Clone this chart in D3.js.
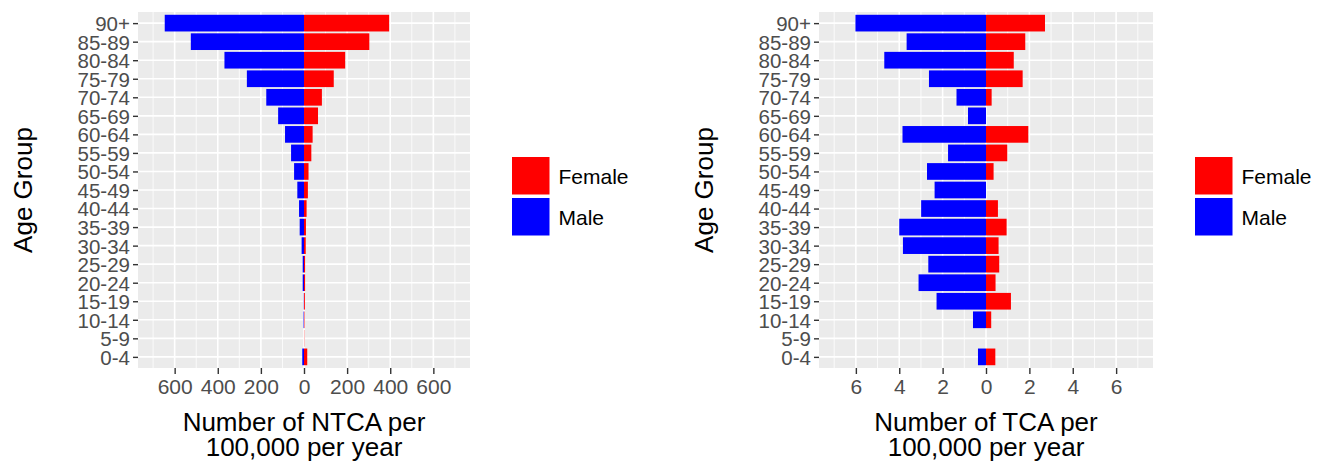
<!DOCTYPE html>
<html>
<head>
<meta charset="utf-8">
<script src="https://cdn.jsdelivr.net/npm/d3@7"></script>
<style>
  body { margin: 0; background: #fff; }
  svg text { font-family: "Liberation Sans", Arial, sans-serif; }
</style>
</head>
<body>
<svg id="chart" width="1318" height="461"></svg>
<script>
// age groups, bottom to top
const ageGroups = ["0-4", "5-9", "10-14", "15-19", "20-24", "25-29", "30-34", "35-39", "40-44",
  "45-49", "50-54", "55-59", "60-64", "65-69", "70-74", "75-79", "80-84", "85-89", "90+"];

// non-traffic cardiac arrest per 100,000 per year
const ntcaMale = [8, 0, 2, 1, 6, 6, 11, 20, 23, 31, 46, 60, 88, 120, 175, 265, 369, 525, 646];
const ntcaFemale = [15, 1, 2, 4, 5, 5, 8, 9, 12, 18, 21, 34, 40, 65, 83, 138, 191, 303, 395];

// traffic cardiac arrest per 100,000 per year
const tcaMale = [0.37, 0, 0.6, 2.28, 3.11, 2.66, 3.83, 4.0, 2.99, 2.37, 2.72, 1.75, 3.85, 0.83, 1.36, 2.63, 4.69, 3.66, 6.02];
const tcaFemale = [0.43, 0, 0.24, 1.15, 0.44, 0.61, 0.58, 0.95, 0.55, 0, 0.35, 0.98, 1.95, 0, 0.26, 1.69, 1.28, 1.81, 2.72];

const ntcaTicks = [-600, -400, -200, 0, 200, 400, 600];
const ntcaMinor = [-700, -500, -300, -100, 100, 300, 500, 700];
const tcaTicks = [-6, -4, -2, 0, 2, 4, 6];
const tcaMinor = [-7, -5, -3, -1, 1, 3, 5, 7];

const sexes = ["Female", "Male"];
const sexColor = d3.scaleOrdinal().domain(sexes).range(["#ff0000", "#0000ff"]);

const svg = d3.select("#chart");
const panelTop = 12, panelBottom = 368;

function drawPyramid(opts) {
  const g = svg.append("g");

  const x = d3.scaleLinear().domain([-opts.lim * 1.1, opts.lim * 1.1]).range([opts.x0, opts.x1]);
  const y = d3.scalePoint().domain(ageGroups.slice().reverse()).range([panelTop, panelBottom]).padding(0.6);
  const barH = y.step() * 0.9;

  // panel background
  g.append("rect")
    .attr("x", opts.x0).attr("y", panelTop)
    .attr("width", opts.x1 - opts.x0).attr("height", panelBottom - panelTop)
    .attr("fill", "#ebebeb");

  // minor grid
  g.selectAll(".minor").data(opts.minor).join("line")
    .attr("x1", d => x(d)).attr("x2", d => x(d))
    .attr("y1", panelTop).attr("y2", panelBottom)
    .attr("stroke", "#fff").attr("stroke-width", 0.8);

  // major grid
  g.selectAll(".majx").data(opts.ticks).join("line")
    .attr("x1", d => x(d)).attr("x2", d => x(d))
    .attr("y1", panelTop).attr("y2", panelBottom)
    .attr("stroke", "#fff").attr("stroke-width", 1.6);
  g.selectAll(".majy").data(ageGroups).join("line")
    .attr("x1", opts.x0).attr("x2", opts.x1)
    .attr("y1", d => y(d)).attr("y2", d => y(d))
    .attr("stroke", "#fff").attr("stroke-width", 1.6);

  // bars
  const rows = ageGroups.map((a, i) => ({ age: a, male: opts.male[i], female: opts.female[i] }));
  g.selectAll(".m").data(rows).join("rect")
    .attr("x", d => x(-d.male))
    .attr("width", d => x(0) - x(-d.male))
    .attr("y", d => y(d.age) - barH / 2)
    .attr("height", barH)
    .attr("fill", sexColor("Male"));
  g.selectAll(".f").data(rows).join("rect")
    .attr("x", x(0))
    .attr("width", d => x(d.female) - x(0))
    .attr("y", d => y(d.age) - barH / 2)
    .attr("height", barH)
    .attr("fill", sexColor("Female"));

  // y axis
  const yAxis = g.append("g")
    .attr("transform", `translate(${opts.x0},0)`)
    .call(d3.axisLeft(y).tickSize(5).tickPadding(3));
  yAxis.select(".domain").remove();
  yAxis.selectAll("line").attr("stroke", "#333").attr("stroke-width", 1.4);
  yAxis.selectAll("text").attr("fill", "#4d4d4d").style("font-size", "20.5px").attr("dy", "0.36em");

  // x axis
  const xAxis = g.append("g")
    .attr("transform", `translate(0,${panelBottom})`)
    .call(d3.axisBottom(x).tickValues(opts.ticks).tickFormat(d => Math.abs(d)).tickSize(6).tickPadding(5));
  xAxis.select(".domain").remove();
  xAxis.selectAll("line").attr("stroke", "#333").attr("stroke-width", 1.4);
  xAxis.selectAll("text").attr("fill", "#4d4d4d").style("font-size", "21px").attr("dy", "0.71em");

  // axis titles
  const cx = (opts.x0 + opts.x1) / 2;
  const xt = g.append("text")
    .attr("text-anchor", "middle")
    .style("font-size", "26px").attr("fill", "#000");
  xt.append("tspan").attr("x", cx).attr("y", 431).text(opts.title);
  xt.append("tspan").attr("x", cx).attr("y", 456).text("100,000 per year");

  g.append("text")
    .attr("transform", `translate(${opts.yTitleX},${(panelTop + panelBottom) / 2}) rotate(-90)`)
    .attr("text-anchor", "middle")
    .style("font-size", "26px").attr("fill", "#000")
    .text("Age Group");

  // legend
  const lg = g.append("g").attr("transform", `translate(${opts.legX},157)`);
  sexes.forEach((s, i) => {
    lg.append("rect")
      .attr("x", 0).attr("y", i * 41)
      .attr("width", 37.5).attr("height", 37.5)
      .attr("fill", sexColor(s));
    lg.append("text")
      .attr("x", 46.5).attr("y", i * 41 + 19)
      .attr("dy", "0.36em")
      .style("font-size", "21px").attr("fill", "#000")
      .text(s);
  });
}

drawPyramid({ x0: 138, x1: 470, lim: 700, ticks: ntcaTicks, minor: ntcaMinor,
  male: ntcaMale, female: ntcaFemale, title: "Number of NTCA per", yTitleX: 32, legX: 512 });
drawPyramid({ x0: 819, x1: 1153, lim: 7, ticks: tcaTicks, minor: tcaMinor,
  male: tcaMale, female: tcaFemale, title: "Number of TCA per", yTitleX: 713, legX: 1195 });
</script>
</body>
</html>
